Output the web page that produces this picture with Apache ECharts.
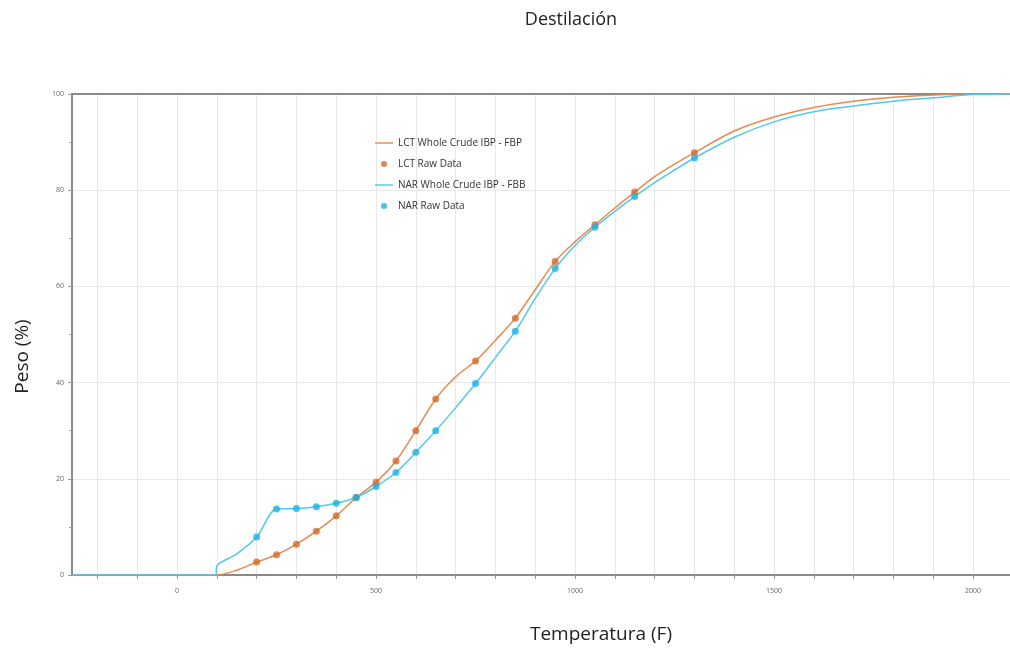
<!DOCTYPE html>
<html>
<head>
<meta charset="utf-8">
<script src="https://cdn.jsdelivr.net/npm/echarts@6/dist/echarts.min.js"></script>
<style>
  html, body { margin: 0; padding: 0; background: #fff; }
  #chart { width: 1010px; height: 653px; }
</style>
</head>
<body>
<div id="chart"></div>
<script>
// raw data temperatures (F)
const rawTemps = [200, 250, 300, 350, 400, 450, 500, 550, 600, 650, 750, 850, 950, 1050, 1150, 1300];
const lctRaw = [2.7, 4.2, 6.4, 9.1, 12.3, 16.1, 19.3, 23.7, 30.0, 36.6, 44.5, 53.4, 65.2, 72.8, 79.6, 87.8];
const narRaw = [7.9, 13.7, 13.8, 14.2, 14.9, 16.1, 18.4, 21.3, 25.5, 30.0, 39.8, 50.7, 63.7, 72.3, 78.7, 86.7];

// fitted curves
const lctCurveT = [-264, 100, 150, 200, 250, 300, 350, 400, 450, 500, 550, 600, 650, 700, 750, 800, 850, 900, 950, 1000, 1050, 1100, 1150, 1200, 1250, 1300, 1400, 1500, 1600, 1700, 1800, 1900, 2000, 2100];
const lctCurveY = [0, 0, 1.0, 2.7, 4.2, 6.4, 9.1, 12.3, 16.1, 19.3, 23.7, 30.0, 36.6, 41.2, 44.5, 48.8, 53.4, 59.3, 65.2, 69.3, 72.8, 76.3, 79.6, 82.8, 85.4, 87.8, 92.3, 95.2, 97.2, 98.5, 99.3, 99.8, 100, 100];
const narCurveT = [-264, 97, 100, 150, 200, 250, 300, 350, 400, 450, 500, 550, 600, 650, 700, 750, 800, 850, 900, 950, 1000, 1050, 1100, 1150, 1200, 1250, 1300, 1400, 1500, 1600, 1700, 1800, 1900, 2000, 2100];
const narCurveY = [0, 0, 1.9, 4.4, 7.9, 13.7, 13.8, 14.2, 14.9, 16.1, 18.4, 21.3, 25.5, 30.0, 34.8, 39.8, 45.2, 50.7, 57.5, 63.7, 68.5, 72.3, 75.6, 78.7, 81.6, 84.2, 86.7, 91.0, 94.2, 96.3, 97.5, 98.5, 99.2, 99.9, 100];

const xMinorTicks = [];
for (let v = -200; v <= 2100; v += 100) xMinorTicks.push(v);
const xLabels = [0, 500, 1000, 1500, 2000];

const zip = (a, b) => a.map((v, i) => [v, b[i]]);
const lineIcon = 'path://M0,0h20v1.6h-20z';

const chart = echarts.init(document.getElementById('chart'));
chart.setOption({
  animation: false,
  textStyle: { fontFamily: 'Open Sans' },
  title: {
    text: 'Destilación',
    left: 566,
    top: 6,
    textAlign: 'center',
    textStyle: { fontSize: 18, fontWeight: 'normal', color: '#222', fontFamily: 'Open Sans' },
  },
  grid: { left: 72, right: 0, top: 94, bottom: 78 },
  legend: {
    orient: 'vertical',
    left: 370,
    top: 133,
    itemGap: 11,
    itemWidth: 18,
    itemHeight: 6,
    textStyle: { fontSize: 10, color: '#333' },
    data: [
      { name: 'LCT Whole Crude IBP - FBP', icon: lineIcon },
      { name: 'LCT Raw Data', icon: 'circle' },
      { name: 'NAR Whole Crude IBP - FBB', icon: lineIcon },
      { name: 'NAR Raw Data', icon: 'circle' },
    ],
  },
  xAxis: [
    {
      type: 'value',
      min: -264,
      max: 2093,
      name: 'Temperatura (F)',
      nameLocation: 'middle',
      nameGap: 50,
      nameTextStyle: { fontSize: 19, color: '#222', padding: [0, 0, 0, 120] },
      axisLine: { onZero: false, lineStyle: { color: '#8a8a8a', width: 2 } },
      axisTick: { show: true, length: 4, customValues: xMinorTicks, lineStyle: { color: '#999' } },
      axisLabel: { customValues: xLabels, fontSize: 7, color: '#666', margin: 12, formatter: (v) => String(v) },
      splitLine: { show: true, lineStyle: { color: '#e8e8e8' } },
    },
    {
      type: 'value',
      position: 'top',
      min: -264,
      max: 2093,
      axisLine: { show: true, onZero: false, lineStyle: { color: '#8a8a8a', width: 2 } },
      axisTick: { show: false },
      axisLabel: { show: false },
      splitLine: { show: false },
    },
  ],
  yAxis: {
    type: 'value',
    min: 0,
    max: 100,
    interval: 20,
    name: 'Peso (%)',
    nameLocation: 'middle',
    nameGap: 40,
    nameTextStyle: { fontSize: 19, color: '#222', padding: [0, 44, 0, 0] },
    axisLine: { show: true, onZero: false, lineStyle: { color: '#8a8a8a', width: 2 } },
    axisTick: { show: true, length: 4, lineStyle: { color: '#999' } },
    minorTick: { show: true, splitNumber: 2, length: 3, lineStyle: { color: '#999' } },
    axisLabel: { fontSize: 7, color: '#666', margin: 8 },
    splitLine: { show: true, lineStyle: { color: '#e8e8e8' } },
  },
  series: [
    {
      name: 'LCT Whole Crude IBP - FBP',
      type: 'line',
      data: zip(lctCurveT, lctCurveY),
      smooth: 0.3,
      symbol: 'none',
      lineStyle: { color: '#e8894f', width: 1.5 },
      itemStyle: { color: '#e8894f' },
      z: 2,
    },
    {
      name: 'LCT Raw Data',
      type: 'scatter',
      data: zip(rawTemps, lctRaw),
      symbolSize: 7,
      itemStyle: { color: '#cf6a2c' },
      z: 3,
    },
    {
      name: 'NAR Whole Crude IBP - FBB',
      type: 'line',
      data: zip(narCurveT, narCurveY),
      smooth: 0.3,
      symbol: 'none',
      lineStyle: { color: '#52c8ee', width: 1.5 },
      itemStyle: { color: '#52c8ee' },
      z: 2,
    },
    {
      name: 'NAR Raw Data',
      type: 'scatter',
      data: zip(rawTemps, narRaw),
      symbolSize: 7,
      itemStyle: { color: '#1cb2e3' },
      z: 3,
    },
  ],
});
</script>
</body>
</html>
